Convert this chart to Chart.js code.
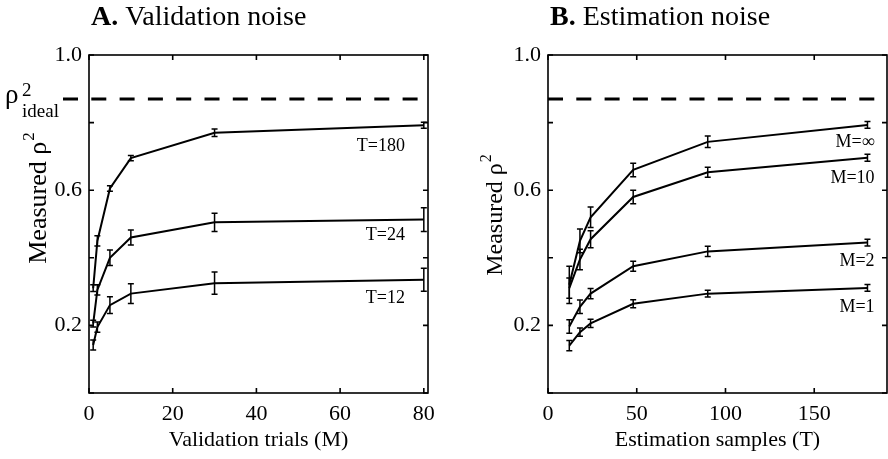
<!DOCTYPE html>
<html lang="en">
<head>
<meta charset="UTF-8">
<title>Validation noise / Estimation noise</title>
<script src="https://cdn.jsdelivr.net/npm/chart.js"></script>
<style>
  body { margin: 0; background: #fff; }
  #wrap { position: relative; width: 888px; height: 459px; }
  #wrap canvas { position: absolute; top: 0; }
  #chartA { left: 0; }
  #chartB { left: 444px; }
</style>
</head>
<body>
<div id="wrap">
  <canvas id="chartA" width="444" height="459"></canvas>
  <canvas id="chartB" width="444" height="459"></canvas>
</div>
<script>
const FONT = '"Liberation Serif", "Times New Roman", serif';

// ideal rho^2 (dashed line in both panels)
const IDEAL = 0.87;

const yTicks = [0, 0.2, 0.4, 0.6, 0.8, 1.0];
const yLabeled = ['0.2', '0.6', '1.0'];

// Panel A: measured rho^2 vs validation trials M
const trialsM = [1, 2, 5, 10, 30, 80];
const t180 = [0.31, 0.45, 0.605, 0.695, 0.77, 0.792];
const t180Err = [0.01, 0.015, 0.008, 0.008, 0.011, 0.009];
const t24 = [0.205, 0.305, 0.40, 0.46, 0.505, 0.513];
const t24Err = [0.01, 0.015, 0.023, 0.022, 0.027, 0.035];
const t12 = [0.142, 0.195, 0.26, 0.294, 0.325, 0.335];
const t12Err = [0.015, 0.015, 0.025, 0.029, 0.033, 0.034];
const xTicksA = [0, 20, 40, 60, 80];

// Panel B: measured rho^2 vs estimation samples T
const samplesT = [12, 18, 24, 48, 90, 180];
const mInf = [0.32, 0.45, 0.52, 0.66, 0.743, 0.793];
const mInfErr = [0.055, 0.035, 0.03, 0.02, 0.017, 0.01];
const m10 = [0.31, 0.395, 0.455, 0.58, 0.653, 0.696];
const m10Err = [0.03, 0.03, 0.025, 0.02, 0.015, 0.01];
const m2 = [0.197, 0.255, 0.294, 0.375, 0.419, 0.445];
const m2Err = [0.02, 0.02, 0.015, 0.015, 0.015, 0.01];
const m1 = [0.14, 0.18, 0.206, 0.264, 0.294, 0.311];
const m1Err = [0.015, 0.012, 0.012, 0.012, 0.01, 0.01];
const xTicksB = [0, 50, 100, 150];

function pts(xs, ys) {
  return xs.map((x, i) => ({ x: x, y: ys[i] }));
}

function series(xs, ys, errs, label, at) {
  return {
    data: pts(xs, ys), errs: errs, tag: label, tagAt: at,
    showLine: true, borderColor: '#000', borderWidth: 2,
    pointRadius: 0, tension: 0
  };
}

// draws the frame, inner ticks, error bars, dashed ideal line and all the loose text
const decor = {
  id: 'decor',
  afterDatasetsDraw(chart, args, o) {
    const ctx = chart.ctx;
    const a = chart.chartArea;
    const xs = chart.scales.x, ys = chart.scales.y;
    ctx.save();
    ctx.strokeStyle = '#000';
    ctx.fillStyle = '#000';

    // error bars
    ctx.lineWidth = 1.5;
    chart.data.datasets.forEach((ds, di) => {
      const meta = chart.getDatasetMeta(di);
      meta.data.forEach((el, i) => {
        const v = ds.data[i].y, e = ds.errs[i];
        const y1 = ys.getPixelForValue(v - e), y2 = ys.getPixelForValue(v + e);
        ctx.beginPath();
        ctx.moveTo(el.x, y1); ctx.lineTo(el.x, y2);
        ctx.moveTo(el.x - 3, y1); ctx.lineTo(el.x + 3, y1);
        ctx.moveTo(el.x - 3, y2); ctx.lineTo(el.x + 3, y2);
        ctx.stroke();
      });
    });

    // frame + inward ticks
    ctx.lineWidth = 1.6;
    ctx.strokeRect(a.left, a.top, a.right - a.left, a.bottom - a.top);
    ctx.beginPath();
    xs.ticks.forEach(t => {
      const px = xs.getPixelForValue(t.value);
      ctx.moveTo(px, a.bottom); ctx.lineTo(px, a.bottom - 5);
      ctx.moveTo(px, a.top); ctx.lineTo(px, a.top + 5);
    });
    ys.ticks.forEach(t => {
      const py = ys.getPixelForValue(t.value);
      ctx.moveTo(a.left, py); ctx.lineTo(a.left + 5, py);
      ctx.moveTo(a.right, py); ctx.lineTo(a.right - 5, py);
    });
    ctx.stroke();

    // dashed ideal line
    const yi = ys.getPixelForValue(IDEAL);
    ctx.lineWidth = 3;
    ctx.setLineDash([15, 13.3]);
    ctx.beginPath();
    ctx.moveTo(a.left - o.dashLead, yi);
    ctx.lineTo(a.right, yi);
    ctx.stroke();
    ctx.setLineDash([]);

    // curve labels
    ctx.font = '18px ' + FONT;
    ctx.textAlign = 'right';
    ctx.textBaseline = 'middle';
    chart.data.datasets.forEach(ds => {
      ctx.fillText(ds.tag, xs.getPixelForValue(ds.tagAt[0]), ys.getPixelForValue(ds.tagAt[1]));
    });

    // panel title
    ctx.textAlign = 'left';
    ctx.textBaseline = 'alphabetic';
    ctx.font = 'bold 28px ' + FONT;
    const tx = a.left + 2;
    ctx.fillText(o.letter, tx, 25);
    const lw = ctx.measureText(o.letter + ' ').width;
    ctx.font = '28px ' + FONT;
    ctx.fillText(o.title, tx + lw, 25);

    // rotated y title with superscript
    ctx.save();
    ctx.translate(a.left - o.yTitleGap, o.yTitleMid);
    ctx.rotate(-Math.PI / 2);
    ctx.font = o.yTitleSize + 'px ' + FONT;
    const w1 = ctx.measureText('Measured ρ').width;
    ctx.font = Math.round(o.yTitleSize * 0.65) + 'px ' + FONT;
    const w2 = ctx.measureText('2').width;
    const start = -(w1 + w2 + 1) / 2;
    ctx.font = o.yTitleSize + 'px ' + FONT;
    ctx.fillText('Measured ρ', start, 0);
    ctx.font = Math.round(o.yTitleSize * 0.65) + 'px ' + FONT;
    ctx.fillText('2', start + w1 + 1, -o.yTitleSize * 0.45);
    ctx.restore();

    // rho^2 ideal label
    if (o.idealLabel) {
      const lx = a.left - 84;
      ctx.font = '27px ' + FONT;
      ctx.fillText('ρ', lx, yi + 4);
      ctx.font = '19px ' + FONT;
      ctx.fillText('2', lx + 17, yi - 3);
      ctx.fillText('ideal', lx + 17, yi + 18);
    }
    ctx.restore();
  }
};

function panel(id, p) {
  new Chart(document.getElementById(id), {
    type: 'scatter',
    data: { datasets: p.datasets },
    plugins: [decor],
    options: {
      responsive: false,
      animation: false,
      layout: { padding: { top: 55, right: p.padRight, left: 0, bottom: 0 } },
      plugins: {
        legend: { display: false },
        tooltip: { enabled: false },
        decor: p.decor
      },
      scales: {
        x: {
          type: 'linear', min: 0, max: p.xMax,
          afterBuildTicks: s => { s.ticks = p.xTicks.map(v => ({ value: v })); },
          afterFit: s => { s.height = 66; },
          grid: { display: false, drawTicks: false },
          border: { display: false },
          ticks: { color: '#000', font: { family: FONT, size: 22 }, padding: 8, maxRotation: 0, callback: v => String(v) },
          title: { display: true, text: p.xTitle, color: '#000', font: { family: FONT, size: 22 }, padding: { top: 0, bottom: 6 } }
        },
        y: {
          type: 'linear', min: 0, max: 1,
          afterBuildTicks: s => { s.ticks = yTicks.map(v => ({ value: v })); },
          afterFit: s => { s.width = p.yWidth; },
          grid: { display: false, drawTicks: false },
          border: { display: false },
          ticks: {
            color: '#000', font: { family: FONT, size: 22 }, padding: 7,
            callback: v => { const s = Number(v).toFixed(1); return yLabeled.includes(s) ? s : ''; }
          }
        }
      }
    }
  });
}

panel('chartA', {
  xMax: 81, xTicks: xTicksA, yWidth: 89, padRight: 16,
  xTitle: 'Validation trials (M)',
  datasets: [
    series(trialsM, t180, t180Err, 'T=180', [75.5, 0.731]),
    series(trialsM, t24, t24Err, 'T=24', [75.5, 0.466]),
    series(trialsM, t12, t12Err, 'T=12', [75.5, 0.279])
  ],
  decor: { letter: 'A.', title: 'Validation noise', dashLead: 26, idealLabel: true, yTitleGap: 43, yTitleMid: 198, yTitleSize: 26 }
});

panel('chartB', {
  xMax: 191, xTicks: xTicksB, yWidth: 104, padRight: 1,
  xTitle: 'Estimation samples (T)',
  datasets: [
    series(samplesT, mInf, mInfErr, 'M=∞', [184, 0.742]),
    series(samplesT, m10, m10Err, 'M=10', [184, 0.634]),
    series(samplesT, m2, m2Err, 'M=2', [184, 0.391]),
    series(samplesT, m1, m1Err, 'M=1', [184, 0.254])
  ],
  decor: { letter: 'B.', title: 'Estimation noise', dashLead: 0, idealLabel: false, yTitleGap: 46, yTitleMid: 215, yTitleSize: 24 }
});
</script>
</body>
</html>
